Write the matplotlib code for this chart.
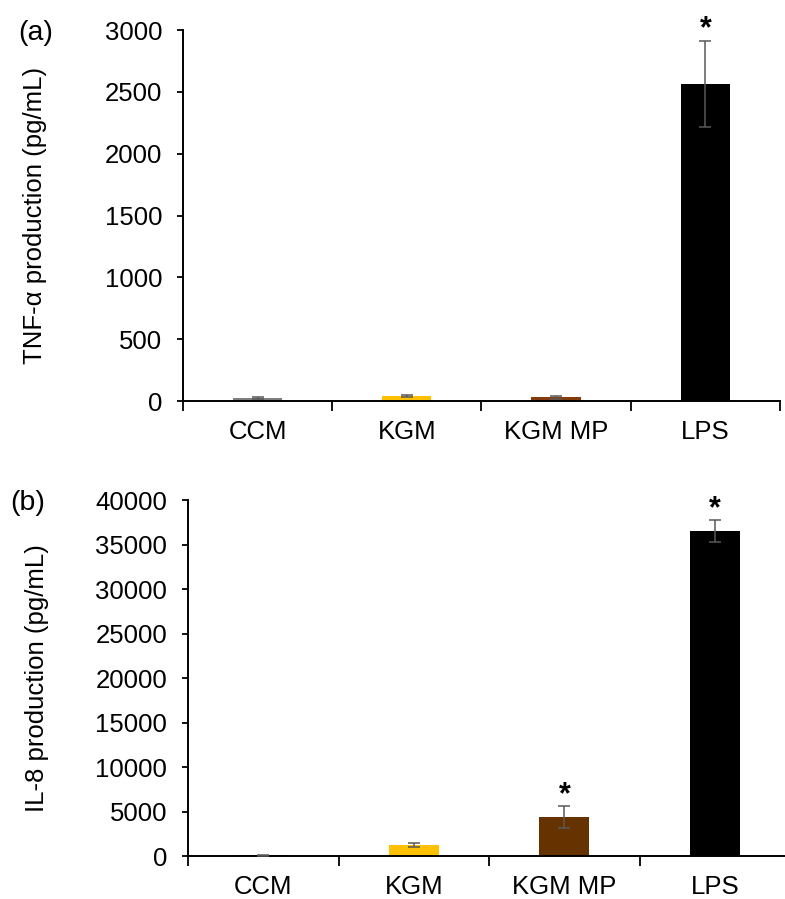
import matplotlib
matplotlib.use("Agg")
import matplotlib.pyplot as plt
import numpy as np

plt.rcParams['font.family'] = ['Liberation Sans', 'DejaVu Sans']

categories = ["CCM", "KGM", "KGM MP", "LPS"]
colors_a = ["#7f7f7f", "#ffc000", "#843c0c", "#000000"]
colors_b = ["#2f5597", "#ffc000", "#663300", "#000000"]

tnf_mean = [25, 38, 30, 2565]
tnf_err = [10, 8, 12, 350]
tnf_sig = [False, False, False, True]

il8_mean = [100, 1250, 4400, 36500]
il8_err = [50, 200, 1250, 1250]
il8_sig = [False, False, True, True]

FS = 18.5
fig = plt.figure(figsize=(7.85, 8.99), dpi=100)


def panel(rect, means, errs, sig, colors, ymax, ystep, ylabel, label_x, tag, tag_xy):
    ax = fig.add_axes(rect)
    x = np.arange(len(categories))
    ax.bar(x, means, width=0.33, color=colors, zorder=2)
    ax.errorbar(x, means, yerr=errs, fmt='none', ecolor="#595959",
                elinewidth=1.1, capsize=4.3, capthick=1.1, zorder=3)
    for xi, m, e, s in zip(x, means, errs, sig):
        if s:
            ax.annotate("*", xy=(xi, m + e), xytext=(0, -3),
                        textcoords="offset points", ha="center", va="bottom",
                        fontsize=22, fontweight="bold")
    ax.set_xlim(-0.5, len(categories) - 0.5)
    ax.set_ylim(0, ymax)
    ax.set_yticks(np.arange(0, ymax + 1, ystep))
    ax.set_xticks(x)
    ax.set_xticklabels(categories)
    ax.set_xticks(np.arange(-0.5, len(categories)), minor=True)
    ax.tick_params(axis='x', which='major', length=0, pad=14, labelsize=FS)
    ax.tick_params(axis='x', which='minor', length=7, width=1.3, direction='out')
    ax.tick_params(axis='y', length=4.5, width=1.3, labelsize=FS, pad=10.5)
    for side in ("top", "right"):
        ax.spines[side].set_visible(False)
    for side in ("left", "bottom"):
        ax.spines[side].set_linewidth(1.4)
    cy = rect[1] + rect[3] / 2
    fig.text(label_x, cy, ylabel, rotation=90, ha="center", va="center",
             fontsize=FS)
    fig.text(tag_xy[0], tag_xy[1], tag, fontsize=20.5, ha="left", va="center")
    return ax


panel([0.2331, 0.5539, 0.7605, 0.4127], tnf_mean, tnf_err, tnf_sig, colors_a,
      3000, 500, "TNF-α production (pg/mL)", 0.044, "(a)", (0.023, 0.963))
panel([0.2395, 0.0478, 0.767, 0.396], il8_mean, il8_err, il8_sig, colors_b,
      40000, 5000, "IL-8 production (pg/mL)", 0.047, "(b)", (0.013, 0.441))

fig.savefig("out.png", dpi=100)
